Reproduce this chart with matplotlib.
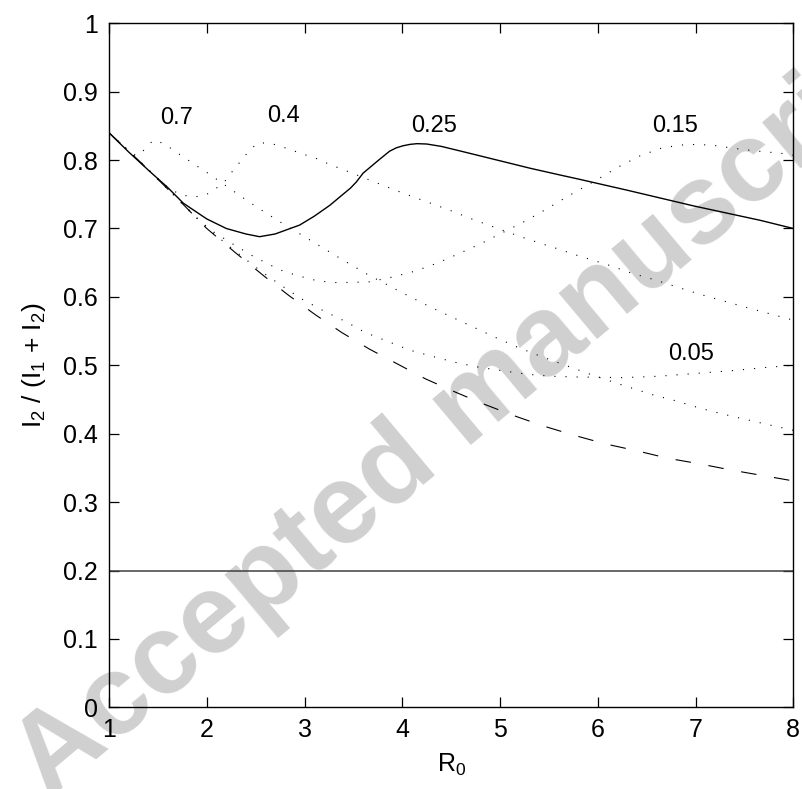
import numpy as np
import matplotlib
matplotlib.use("Agg")
import matplotlib.pyplot as plt

plt.rcParams['font.family'] = ['Liberation Sans', 'DejaVu Sans']
plt.rcParams['mathtext.fontset'] = 'custom'
plt.rcParams['mathtext.rm'] = 'Liberation Sans'
plt.rcParams['mathtext.it'] = 'Liberation Sans'

# curve values
x_solid = [1.0, 1.2, 1.42, 1.6, 1.76, 2.0, 2.2, 2.4, 2.54, 2.7, 2.95, 3.1, 3.26, 3.36, 3.47,
           3.53, 3.6, 3.75, 3.87, 3.94, 4.01, 4.08, 4.15, 4.25, 4.4, 4.63, 4.97, 5.31, 5.62,
           5.81, 6.3, 6.98, 7.66, 8.0]
y_solid = [0.840, 0.812, 0.783, 0.760, 0.737, 0.714, 0.700, 0.692, 0.688, 0.692, 0.705, 0.718,
           0.734, 0.746, 0.759, 0.768, 0.781, 0.799, 0.813, 0.818, 0.821, 0.823, 0.824, 0.8235,
           0.820, 0.812, 0.800, 0.788, 0.778, 0.772, 0.756, 0.733, 0.712, 0.700]

x_dash = [1.0, 1.3, 1.5, 1.76, 2.0, 2.29, 2.59, 2.84, 3.11, 3.38, 3.66, 3.95, 4.24, 4.54, 4.84,
          5.15, 5.45, 5.75, 6.08, 6.4, 6.72, 7.04, 7.36, 7.68, 8.0]
y_dash = [0.840, 0.800, 0.772, 0.735, 0.700, 0.665, 0.630, 0.602, 0.574, 0.548, 0.524, 0.502,
          0.480, 0.461, 0.443, 0.426, 0.411, 0.398, 0.385, 0.375, 0.364, 0.356, 0.347, 0.339, 0.331]

x_07 = [1.0, 1.15, 1.28, 1.38, 1.45, 1.57, 1.67, 1.77, 1.87, 1.98, 2.18, 2.38, 2.58, 2.79, 3.0,
        3.31, 3.63, 3.96, 4.29, 4.62, 4.95, 5.17, 5.40, 5.63, 5.98, 6.21, 6.56, 6.80, 7.03, 7.27,
        7.51, 7.75, 8.0]
y_07 = [0.840, 0.820, 0.806, 0.817, 0.829, 0.824, 0.813, 0.804, 0.794, 0.784, 0.764, 0.744,
        0.725, 0.706, 0.688, 0.661, 0.634, 0.609, 0.585, 0.563, 0.541, 0.527, 0.514, 0.502,
        0.484, 0.473, 0.457, 0.448, 0.438, 0.429, 0.421, 0.413, 0.405]

x_04 = [1.0, 1.3, 1.5, 1.62, 1.74, 1.87, 1.99, 2.09, 2.18, 2.27, 2.35, 2.43, 2.52, 2.64, 2.76,
        2.88, 3.0, 3.11, 3.22, 3.34, 3.45, 3.68, 4.02, 4.25, 4.48, 4.71, 4.94, 5.17, 5.40, 5.64,
        5.76, 6.10, 6.34, 6.58, 7.04, 7.51, 7.87, 8.0]
y_04 = [0.840, 0.800, 0.773, 0.758, 0.749, 0.746, 0.749, 0.758, 0.768, 0.785, 0.799, 0.813,
        0.825, 0.825, 0.820, 0.814, 0.808, 0.803, 0.796, 0.789, 0.783, 0.770, 0.751, 0.739,
        0.727, 0.714, 0.702, 0.690, 0.679, 0.668, 0.662, 0.647, 0.635, 0.625, 0.604, 0.585,
        0.571, 0.566]

x_015 = [1.0, 1.3, 1.5, 1.88, 2.07, 2.27, 2.48, 2.70, 2.81, 2.94, 3.05, 3.17, 3.30, 3.42, 3.66,
         3.90, 4.14, 4.37, 4.59, 4.82, 5.04, 5.26, 5.47, 5.68, 6.0, 6.21, 6.43, 6.66, 6.91, 7.16,
         7.40, 7.64, 7.87, 8.0]
y_015 = [0.840, 0.800, 0.772, 0.717, 0.695, 0.677, 0.659, 0.643, 0.636, 0.631, 0.626, 0.623,
         0.621, 0.621, 0.622, 0.629, 0.638, 0.650, 0.664, 0.679, 0.695, 0.711, 0.728, 0.746,
         0.772, 0.790, 0.806, 0.818, 0.823, 0.822, 0.817, 0.813, 0.810, 0.807]

x_005 = [1.0, 1.3, 1.5, 1.76, 2.0, 2.29, 2.55, 2.77, 2.97, 3.19, 3.42, 3.62, 3.85, 4.08, 4.31,
         4.55, 4.79, 5.03, 5.27, 5.52, 5.77, 6.26, 6.62, 6.99, 7.36, 7.73, 8.0]
y_005 = [0.840, 0.800, 0.772, 0.736, 0.701, 0.667, 0.638, 0.616, 0.597, 0.580, 0.564, 0.548,
         0.535, 0.522, 0.513, 0.504, 0.497, 0.492, 0.487, 0.484, 0.483, 0.482, 0.484, 0.488,
         0.492, 0.497, 0.500]

threshold = 0.2

labels = ['0.7', '0.4', '0.25', '0.15', '0.05']
label_x = [1.69, 2.78, 4.33, 6.79, 6.95]
label_y = [0.862, 0.864, 0.850, 0.850, 0.517]

xticks = [1, 2, 3, 4, 5, 6, 7, 8]
yticks = [0, 0.1, 0.2, 0.3, 0.4, 0.5, 0.6, 0.7, 0.8, 0.9, 1]
yticklabels = ['0', '0.1', '0.2', '0.3', '0.4', '0.5', '0.6', '0.7', '0.8', '0.9', '1']

fig = plt.figure(figsize=(8.02, 7.89), dpi=100)
fig.patch.set_facecolor('white')

# watermark behind everything
fig.text(0.061, -0.014, 'Accepted manuscript', fontsize=82, fontweight='bold',
         color='#d0d0d0', rotation=40, rotation_mode='anchor',
         ha='left', va='baseline', zorder=0)

ax = fig.add_axes([0.1359, 0.1035, 0.8533, 0.867])
ax.patch.set_alpha(0)
ax.set_zorder(1)

dots = (0, (1, 9))
ax.plot(x_07, y_07, color='black', lw=0.8, linestyle=dots)
ax.plot(x_04, y_04, color='black', lw=0.8, linestyle=dots)
ax.plot(x_015, y_015, color='black', lw=0.8, linestyle=dots)
ax.plot(x_005, y_005, color='black', lw=0.8, linestyle=dots)
ax.plot(x_dash, y_dash, color='black', lw=0.8, linestyle=(0, (14, 16)))
ax.plot(x_solid, y_solid, color='black', lw=1.0)
ax.axhline(threshold, color='0.25', lw=1.1)

for t, lx, ly in zip(labels, label_x, label_y):
    ax.text(lx, ly, t, fontsize=17, ha='center', va='center')

ax.set_xlim(1, 8)
ax.set_ylim(0, 1)
ax.set_xticks(xticks)
ax.set_xticklabels([str(v) for v in xticks])
ax.set_yticks(yticks)
ax.set_yticklabels(yticklabels)
ax.tick_params(direction='in', length=7, width=0.9, labelsize=18, pad=8,
               top=True, right=True)
for s in ax.spines.values():
    s.set_linewidth(1.0)

ax.set_xlabel(r'R$_\mathregular{0}$', fontsize=18, labelpad=7)
ax.set_ylabel(r'I$_\mathregular{2}$ / (I$_\mathregular{1}$ + I$_\mathregular{2}$)',
              fontsize=19, labelpad=11)

fig.savefig('out.png', dpi=100, facecolor='white')
